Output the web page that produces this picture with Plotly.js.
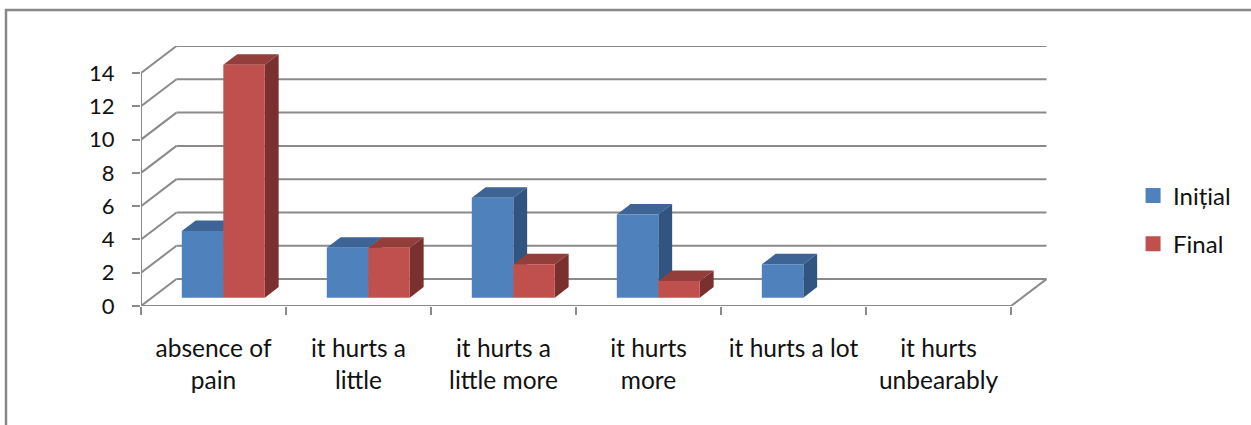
<!DOCTYPE html>
<html>
<head>
<meta charset="utf-8">
<script src="https://cdn.plot.ly/plotly-3.0.1.min.js"></script>
<style>html,body{margin:0;padding:0;background:#fff;overflow:hidden}</style>
</head>
<body>
<div id="chart" style="width:1251px;height:425px"></div>
<script>
const categories = [["absence of","pain"],["it hurts a","little"],["it hurts a","little more"],["it hurts","more"],["it hurts a lot"],["it hurts","unbearably"]];
const initialValues = [4,3,6,5,2,0];
const finalValues = [14,3,2,1,0,0];
const yTicks = [0,2,4,6,8,10,12,14];
const seriesNames = ["Inițial","Final"];

// Projection of the fake 3D box, in axis units
const catPx = 145, unitPx = 16.64;
const wallDx = 35.5/catPx, wallDy = 27/unitPx;       // full depth of the floor
const nearD = 0.31, farD = 0.70;                      // bar depth span, fraction of the floor
const barW = 41.5/catPx, sideGap = (1-2*barW)/2 - 1.2/catPx;
const gridC = "#8a8a8a";
const palette = [{f:"#4F81BD",t:"#3D6494",s:"#325480"},{f:"#C0504D",t:"#933E3B",s:"#7A302E"}];
const px = d => d*wallDx, py = d => d*wallDy;
const poly = pts => "M"+pts.map(p=>p[0]+","+p[1]).join("L")+"Z";
const line = (x0,y0,x1,y1,w) => ({type:"line",xref:"x",yref:"y",x0,y0,x1,y1,layer:"below",line:{color:gridC,width:w||2}});

const shapes = [];
yTicks.forEach(v=>{
  shapes.push(line(px(1),v+py(1),6+px(1),v+py(1)));   // back wall
  shapes.push(line(0,v,px(1),v+py(1)));               // side wall
});
shapes.push(line(6,0,6+px(1),py(1)));                   // floor right edge
shapes.push(line(0,0,6,0));                             // front floor edge
shapes.push(line(0,0,0,14));                            // value axis

function xLeft(i,s){return i+sideGap+s*barW+px(nearD);}
const d = px(farD-nearD), e = py(farD-nearD), b0 = py(nearD);
[initialValues,finalValues].forEach((vals,s)=>{
  vals.forEach((v,i)=>{
    if(v<=0) return;
    const x0=xLeft(i,s), x1=x0+barW, yb=b0, yt=b0+v;
    shapes.push({type:"path",xref:"x",yref:"y",layer:"below",line:{width:0},fillcolor:palette[s].t,
      path:poly([[x0,yt],[x1,yt],[x1+d,yt+e],[x0+d,yt+e]])});
    shapes.push({type:"path",xref:"x",yref:"y",layer:"below",line:{width:0},fillcolor:palette[s].s,
      path:poly([[x1,yb],[x1+d,yb+e],[x1+d,yt+e],[x1,yt]])});
  });
});
// outer frame: only top and left edges are in view
shapes.push({type:"rect",xref:"paper",yref:"paper",layer:"below",x0:-135/906,x1:1.3,y0:-1,y1:1+36/260,line:{color:"#888888",width:2.5},fillcolor:"rgba(0,0,0,0)"});

const tickIdx = categories.map((_,i)=>i+0.5);
const wrap = c => c.map(t=>"<span style='font-size:24.5px'>"+t+"</span>").join("<br>");
const traces = [initialValues,finalValues].map((vals,s)=>({
  type:"bar", x:vals.map((_,i)=>xLeft(i,s)+barW/2), y:vals, base:vals.map(()=>b0), width:barW,
  marker:{color:palette[s].f,line:{width:0}}, showlegend:false, hoverinfo:"skip"
}));
seriesNames.forEach((n,s)=>traces.push({type:"scatter",mode:"markers",x:[null],y:[null],name:n,legendgroup:n,
  marker:{symbol:"square",size:15,color:palette[s].f}}));

Plotly.newPlot("chart",traces,{
  width:1251,height:425,autosize:false,
  margin:{l:141,r:204,t:46,b:119,pad:0},
  paper_bgcolor:"#fff",plot_bgcolor:"rgba(0,0,0,0)",
  barmode:"overlay",
  font:{family:"Lato, sans-serif",size:22,color:"#111"},
  xaxis:{range:[0,906/catPx],tickmode:"array",tickvals:tickIdx,ticktext:categories.map(wrap),ticks:"",showgrid:false,zeroline:false,showline:false,
    tickfont:{size:24.6},ticklabelstandoff:25,tickangle:0,
    minor:{tickmode:"array",tickvals:[0,1,2,3,4,5,6],ticks:"outside",ticklen:8,tickwidth:2,tickcolor:gridC,showgrid:false}},
  yaxis:{range:[0,260/unitPx],tickmode:"array",tickvals:yTicks,ticks:"outside",ticklen:8,tickwidth:2,tickcolor:gridC,showgrid:false,zeroline:false,showline:false,
    tickfont:{size:22},ticklabelstandoff:13},
  legend:{x:1.095,xanchor:"left",y:0.331,yanchor:"middle",traceorder:"grouped",tracegroupgap:14,itemwidth:30,font:{size:24},bgcolor:"rgba(0,0,0,0)"},
  shapes:shapes
},{displayModeBar:false,staticPlot:true});
</script>
</body>
</html>
